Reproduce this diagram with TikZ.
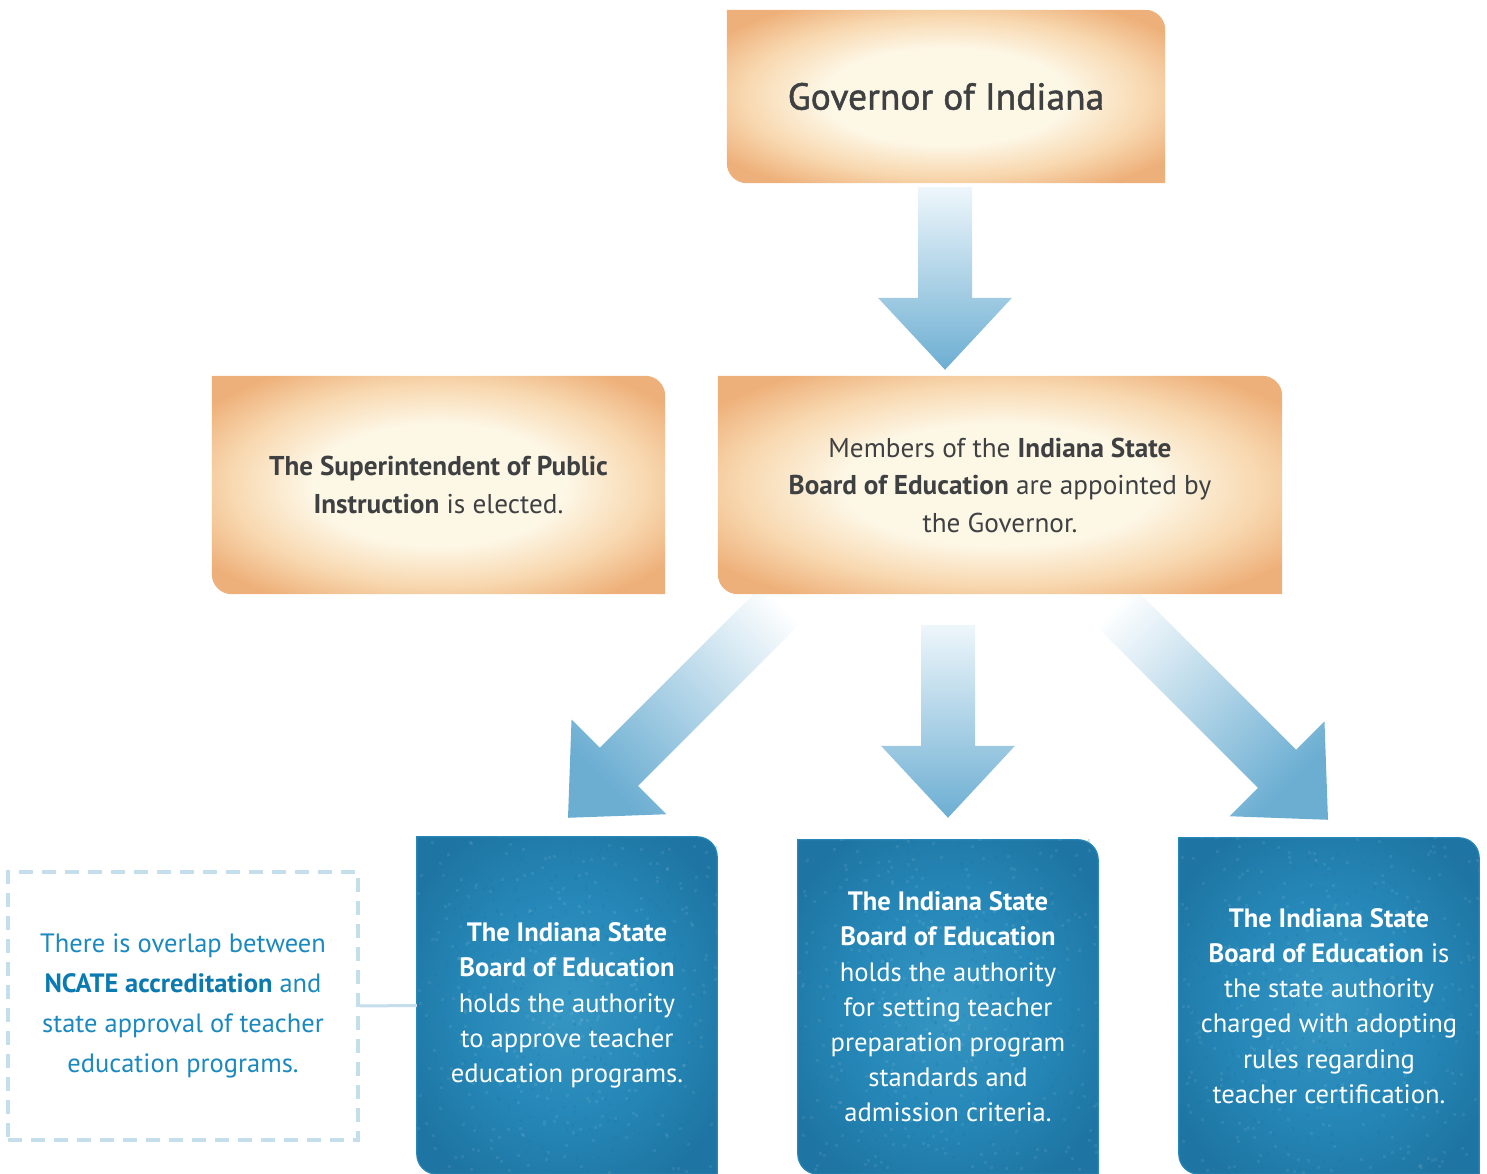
\documentclass[tikz,border=0pt]{standalone}
\usepackage{fontspec}
\setmainfont{PT Sans}
\newfontfamily\headfont{PT Sans}[FakeBold=1.3]
\usetikzlibrary{positioning,calc,backgrounds}
\definecolor{OrangeEdge}{RGB}{238,176,122}
\definecolor{OrangeMid}{RGB}{248,216,176}
\definecolor{Cream}{RGB}{253,247,230}
\definecolor{TextGray}{RGB}{63,64,66}
\definecolor{ArrowBlue}{RGB}{108,174,210}
\definecolor{ArrowPale}{RGB}{238,246,251}
\definecolor{BoardBlue}{RGB}{38,136,184}
\definecolor{BoardBlueDark}{RGB}{30,117,163}
\definecolor{BoardBlueLight}{RGB}{54,150,195}
\definecolor{NoteBlue}{RGB}{27,137,190}
\definecolor{NoteBlueDark}{RGB}{10,122,176}
\definecolor{DashBlue}{RGB}{197,222,236}

\pgfdeclareradialshading{warmglow}{\pgfpointorigin}{color(0bp)=(Cream); color(14bp)=(Cream); color(23bp)=(OrangeMid); color(31bp)=(OrangeEdge); color(50bp)=(OrangeEdge)}
\pgfdeclareradialshading{slateglow}{\pgfpointorigin}{color(0bp)=(BoardBlueLight); color(16bp)=(BoardBlue); color(30bp)=(BoardBlueDark); color(50bp)=(BoardBlueDark)}

% box with round top right / bottom left corners
\newcommand\leafbox[2]{%
  \path[#2] (#1.north west) [rounded corners=20pt] -- (#1.north east) [sharp corners]
    -- (#1.south east) [rounded corners=20pt] -- (#1.south west) [sharp corners] -- cycle;}
% block arrow from tail #1 to tip #2
\newcommand\blockarrow[3]{%
  \coordinate (#1b) at ($(#2)!72pt!(#1)$);
  \shade[#3] ($(#1)!27pt!90:(#2)$) -- ($(#1b)!27pt!90:(#2)$) -- ($(#1b)!67pt!90:(#2)$)
    -- (#2) -- ($(#1b)!67pt!-90:(#2)$) -- ($(#1b)!27pt!-90:(#2)$) -- ($(#1)!27pt!-90:(#2)$) -- cycle;}
% speckled texture
\newcommand\grain[1]{%
  \begin{scope}
    \clip (#1.south west) rectangle (#1.north east);
    \foreach \k in {1,...,320}{
      \pgfmathsetmacro\gx{rnd}\pgfmathsetmacro\gy{rnd}
      \fill[BoardBlueDark, opacity=0.22] ($(#1.south west)!\gx!(#1.south east)+(0,\gy*340)$) rectangle +(2.5,3.5);
      \pgfmathsetmacro\gx{rnd}\pgfmathsetmacro\gy{rnd}
      \fill[white, opacity=0.07] ($(#1.south west)!\gx!(#1.south east)+(0,\gy*340)$) rectangle +(3,3);
    }
  \end{scope}}

\begin{document}
\begin{tikzpicture}[x=1pt,y=1pt,
    warm/.style={inner sep=0pt, align=center, text=TextGray, font=\fontsize{27.2}{37.5}\selectfont},
    slate/.style={inner sep=0pt, minimum width=300pt, align=center, text=white, font=\fontsize{26.6}{35.2}\selectfont},
    note/.style={inner sep=0pt, align=center, text=NoteBlue, font=\fontsize{26.5}{40}\selectfont,
      draw=DashBlue, line width=3.5pt, dash pattern=on 14pt off 9pt},
    glow/.style={shading=warmglow},
    deep/.style={shading=slateglow, draw=BoardBlue, line width=1.2pt},
    fall/.style={top color=ArrowPale, bottom color=ArrowBlue},
    ]
  \useasboundingbox (0,0) rectangle (1487,1174);
  \pgfmathsetseed{7}

  % ===== top row =====
  \node[warm, minimum width=438pt, minimum height=173pt, font=\headfont\fontsize{37.5}{44}\selectfont] (gov) at (946,1077.5) {Governor of Indiana};

  % ===== middle row =====
  \node[warm, minimum width=453pt, minimum height=218pt] (sup) at (438.5,689)
    {\textbf{The Superintendent of Public}\\\textbf{Instruction} is elected.};
  \node[warm, minimum width=564pt, minimum height=218pt] (board) at (1000,689)
    {Members of the \textbf{Indiana State}\\\textbf{Board of Education} are appointed by\\the Governor.};

  % ===== bottom row =====
  \node[slate, minimum height=337pt] (approve) at (567,168.5)
    {\textbf{The Indiana State}\\\textbf{Board of Education}\\holds the authority\\to approve teacher\\education programs.};
  \node[slate, minimum height=334pt] (standards) at (948,167)
    {\textbf{The Indiana State}\\\textbf{Board of Education}\\holds the authority\\for setting teacher\\preparation program\\standards and\\admission criteria.};
  \node[slate, minimum height=336pt] (rules) at (1329,168)
    {\textbf{The Indiana State}\\\textbf{Board of Education} is\\the state authority\\charged with adopting\\rules regarding\\teacher certification.};

  \node[note, minimum width=350pt, minimum height=268pt] (overlap) at (183,168)
    {There is overlap between\\\textbf{\color{NoteBlueDark}NCATE accreditation} and\\state approval of teacher\\education programs.};
  \draw[DashBlue, line width=3pt] (overlap.east) -- (approve.west);

  % ===== arrows + shapes behind the text =====
  \begin{scope}[on background layer]
    \coordinate (a0t) at ($(gov.south)+(-1,-4)$);
    \coordinate (a0p) at ($(gov.south |- board.north)+(-1,6)$);
    \coordinate (a2t) at ($(board.south)+(-52,-31)$);
    \coordinate (a2p) at ($(standards.north)+(0,22)$);
    \coordinate (a1p) at ($(approve.north)+(1,19)$);
    \coordinate (a1t) at ($(a1p)+(232,232)$);
    \coordinate (a3p) at ($(rules.north)+(-1,18)$);
    \coordinate (a3t) at ($(a3p)+(-232,232)$);
    \blockarrow{a0t}{a0p}{fall}
    \blockarrow{a2t}{a2p}{fall}
    \blockarrow{a1t}{a1p}{top color=white, bottom color=ArrowBlue, shading angle=-45}
    \blockarrow{a3t}{a3p}{top color=white, bottom color=ArrowBlue, shading angle=45}

    \leafbox{gov}{glow}
    \leafbox{sup}{glow}
    \leafbox{board}{glow}
    \foreach \b in {approve,standards,rules}{
      \leafbox{\b}{deep}
      \grain{\b}
    }
  \end{scope}
\end{tikzpicture}
\end{document}
